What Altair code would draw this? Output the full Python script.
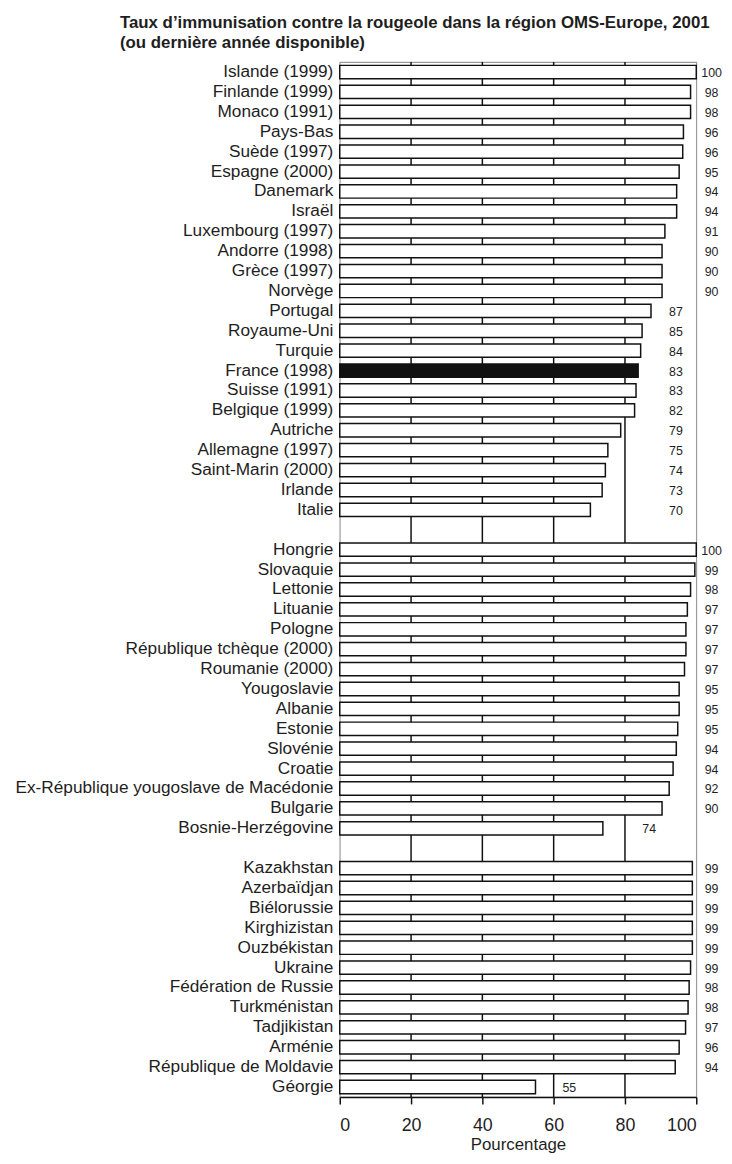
import altair as alt
import pandas as pd

# ---- data -------------------------------------------------------------
west = ["Islande (1999)", "Finlande (1999)", "Monaco (1991)", "Pays-Bas", "Suède (1997)",
        "Espagne (2000)", "Danemark", "Israël", "Luxembourg (1997)", "Andorre (1998)",
        "Grèce (1997)", "Norvège", "Portugal", "Royaume-Uni", "Turquie", "France (1998)",
        "Suisse (1991)", "Belgique (1999)", "Autriche", "Allemagne (1997)",
        "Saint-Marin (2000)", "Irlande", "Italie"]
west_values = [100, 98.4, 98.4, 96.4, 96.2, 95.2, 94.5, 94.5, 91.2, 90.4, 90.4, 90.4,
               87.3, 84.8, 84.4, 83.7, 83.1, 82.7, 78.8, 75.2, 74.5, 73.6, 70.3]
west_labels = [100, 98, 98, 96, 96, 95, 94, 94, 91, 90, 90, 90,
               87, 85, 84, 83, 83, 82, 79, 75, 74, 73, 70]

central = ["Hongrie", "Slovaquie", "Lettonie", "Lituanie", "Pologne",
           "République tchèque (2000)", "Roumanie (2000)", "Yougoslavie", "Albanie",
           "Estonie", "Slovénie", "Croatie", "Ex-République yougoslave de Macédonie",
           "Bulgarie", "Bosnie-Herzégovine"]
central_values = [100, 99.6, 98.4, 97.5, 97.1, 97.1, 96.7, 95.2, 95.2, 94.8, 94.4,
                  93.5, 92.4, 90.4, 73.8]
central_labels = [100, 99, 98, 97, 97, 97, 97, 95, 95, 95, 94, 94, 92, 90, 74]

east = ["Kazakhstan", "Azerbaïdjan", "Biélorussie", "Kirghizistan", "Ouzbékistan",
        "Ukraine", "Fédération de Russie", "Turkménistan", "Tadjikistan", "Arménie",
        "République de Moldavie", "Géorgie"]
east_values = [98.9, 98.9, 98.9, 98.9, 98.9, 98.4, 98.0, 97.7, 97.0, 95.2, 94.1, 54.9]
east_labels = [99, 99, 99, 99, 99, 99, 98, 98, 97, 96, 94, 55]

highlight = "France (1998)"
gridline_values = [20, 40, 60, 80]
tick_values = [0, 20, 40, 60, 80, 100]

title_lines = ["Taux d’immunisation contre la rougeole dans la région OMS-Europe, 2001",
               "(ou dernière année disponible)"]

# ---- tables -----------------------------------------------------------
rows = []
for grp, names, vals, labs in [("A", west, west_values, west_labels),
                               ("B", central, central_values, central_labels),
                               ("C", east, east_values, east_labels)]:
    for n, v, l in zip(names, vals, labs):
        rows.append({"country": n, "value": v, "label": str(l), "group": grp})
df = pd.DataFrame(rows)

# spacer rows (blank categories) between the groups
y_domain = west + [" "] + central + ["  "] + east

grid_df = pd.DataFrame({"g": gridline_values})

FONT = "Liberation Sans"
INK = "#1e1e1e"

y_enc = alt.Y("country:N",
              scale=alt.Scale(domain=y_domain, paddingInner=0.33, paddingOuter=0.165),
              axis=alt.Axis(title=None, ticks=False, domain=False, labelFont=FONT,
                            labelFontSize=17.4, labelColor=INK, labelPadding=7,
                            labelLimit=400))

x_scale = alt.Scale(domain=[0, 100], nice=False)

grid = alt.Chart(grid_df).mark_rule(color="#111", strokeWidth=1.5).encode(
    x=alt.X("g:Q", scale=x_scale)
)

bars = alt.Chart(df).mark_bar(stroke="#111", strokeWidth=1.5).encode(
    x=alt.X("value:Q", scale=x_scale,
            axis=alt.Axis(values=tick_values, title="Pourcentage", grid=False,
                          tickSize=7, tickWidth=1.5, tickColor="#111",
                          domainColor="#111", domainWidth=1.5,
                          labelFont=FONT, labelFontSize=18, labelColor=INK,
                          labelPadding=13, titleFont=FONT, titleFontSize=17,
                          titleFontWeight="normal", titleColor=INK, titlePadding=2)),
    y=y_enc,
    fill=alt.condition(alt.datum.country == highlight, alt.value("#111"), alt.value("white")),
)

texts = alt.Chart(df).transform_calculate(
    lx="datum.value >= 89.5 ? 104.3 : (datum.group == 'A' ? 94.3 : "
       "(datum.value < 60 ? datum.value + 9.5 : datum.value + 13))"
).mark_text(align="center", baseline="middle", dy=1, font=FONT, fontSize=12.5,
            color=INK).encode(
    x=alt.X("lx:Q", scale=x_scale),
    y=y_enc,
    text="label:N",
)

chart = alt.layer(grid, bars, texts).properties(
    width=360,
    height=1045,
    padding={"left": 7, "top": 0, "right": 2, "bottom": 0},
    title=alt.TitleParams(title_lines, anchor="start", frame="group", dx=-222,
                          font=FONT, fontSize=17, fontWeight="bold", color=INK,
                          lineHeight=20.5, offset=9),
).configure_view(stroke="#9a9a9a", strokeWidth=1.2)

chart.save("out.html", embed_options={"renderer": "svg", "actions": False})
